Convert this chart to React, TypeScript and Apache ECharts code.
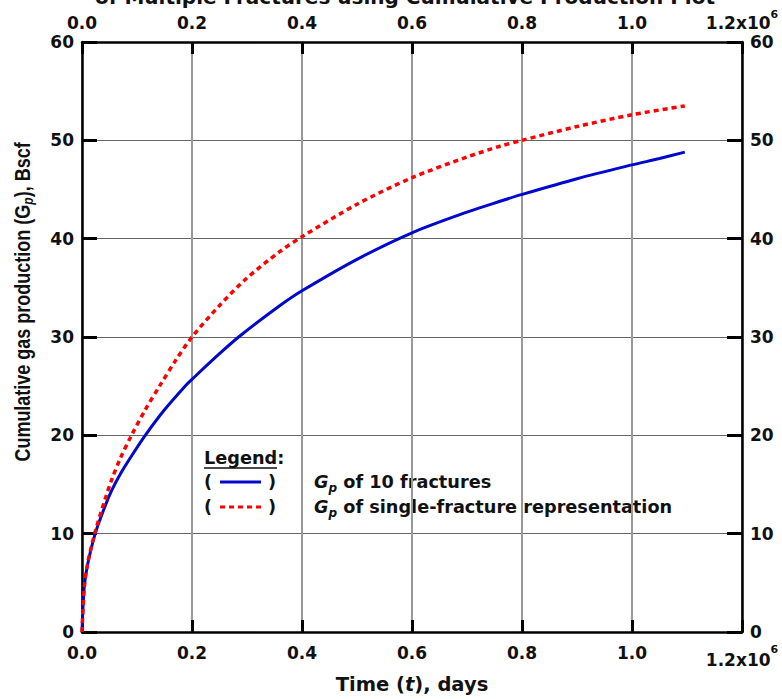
import React, { useEffect, useRef } from "react";
import * as echarts from "echarts";

// Time in days
const timeSingle = [0, 4000, 10000, 24000, 42000, 54000, 70000, 90000, 115000, 142000, 170000, 200000, 250000, 300000, 360000, 400000, 500000, 600000, 700000, 760000, 800000, 900000, 1000000, 1096000];
const gpSingle = [0, 4.4, 6.9, 10.2, 13.5, 15.5, 17.7, 20, 22.6, 25.1, 27.6, 30, 33.2, 36, 38.7, 40.2, 43.5, 46.2, 48.3, 49.4, 50, 51.4, 52.6, 53.5];

const timeTen = [0, 4000, 10000, 24000, 42000, 54000, 70000, 90000, 115000, 150000, 189000, 200000, 250000, 287000, 360000, 400000, 500000, 600000, 700000, 760000, 800000, 900000, 1000000, 1050000, 1096000];
const gpTen = [0, 4.5, 6.8, 10, 12.8, 14.4, 16.1, 17.9, 20, 22.6, 25.1, 25.7, 28.3, 30.1, 33.2, 34.7, 37.9, 40.6, 42.7, 43.8, 44.5, 46.1, 47.5, 48.15, 48.8];

const xTicks = [0, 200000, 400000, 600000, 800000, 1000000, 1200000];
const yTicks = [0, 10, 20, 30, 40, 50, 60];

const FONT = "DejaVu Sans";
const FONT2 = "Liberation Sans";

export default function App() {
  const ref = useRef<HTMLDivElement>(null);
  useEffect(() => {
    if (!ref.current) return;
    const chart = echarts.init(ref.current, null, { renderer: "svg" });
    const xMin = xTicks[0];
    const xMax = xTicks[xTicks.length - 1];
    const xInt = xTicks[1] - xTicks[0];
    const yMin = yTicks[0];
    const yMax = yTicks[yTicks.length - 1];
    const yInt = yTicks[1] - yTicks[0];

    const labelBase = { fontFamily: FONT, fontWeight: "bold", fontSize: 17, color: "#111" };
    const fmtX = (v: number) =>
      v === xMax ? `{m|${(v / 1e6).toFixed(1)}x10}{s|6}` : (v / 1e6).toFixed(1);

    const common = {
      type: "value",
      min: xMin,
      max: xMax,
      interval: xInt,
      axisLine: { show: true, onZero: false, lineStyle: { color: "#000", width: 2.5 } },
      axisTick: { show: true, inside: true, length: 12, lineStyle: { color: "#000", width: 3 } },
    };

    const legendRich = {
      g: { fontFamily: FONT, fontWeight: "bold", fontStyle: "italic", fontSize: 17.7, fill: "#111", lineHeight: 24, verticalAlign: "middle" },
      p: { fontFamily: FONT, fontWeight: "bold", fontStyle: "italic", fontSize: 12, fill: "#111", lineHeight: 12, verticalAlign: "bottom" },
      n: { fontFamily: FONT, fontWeight: "bold", fontSize: 17.7, fill: "#111", lineHeight: 24, verticalAlign: "middle" },
    };
    const paren = { fontFamily: FONT, fontWeight: "bold", fontSize: 17.7, fill: "#111", verticalAlign: "middle" };

    chart.setOption({
      animation: false,
      backgroundColor: "#fff",
      grid: { left: 82, right: 40, top: 42, bottom: 65, containLabel: false },
      xAxis: [
        {
          ...common,
          position: "bottom",
          name: "{n|Time (}{i|t}{n|), days}",
          nameLocation: "middle",
          nameGap: 42,
          nameTextStyle: {
            rich: {
              n: { fontFamily: FONT, fontWeight: "bold", fontSize: 19.5, color: "#111" },
              i: { fontFamily: FONT, fontWeight: "bold", fontStyle: "italic", fontSize: 19.5, color: "#111" },
            },
          },
          axisLabel: {
            ...labelBase,
            margin: 12,
            formatter: fmtX,
            rich: {
              m: { ...labelBase, lineHeight: 24, verticalAlign: "bottom" },
              s: { ...labelBase, fontSize: 11, lineHeight: 22, verticalAlign: "top" },
            },
          },
          splitLine: { show: true, lineStyle: { color: "#999", width: 2 } },
        },
        {
          ...common,
          position: "top",
          axisLabel: {
            ...labelBase,
            margin: 11,
            formatter: fmtX,
            rich: {
              m: { ...labelBase, lineHeight: 22, verticalAlign: "bottom" },
              s: { ...labelBase, fontSize: 11, lineHeight: 13, verticalAlign: "top" },
            },
          },
          splitLine: { show: false },
        },
      ],
      yAxis: [
        {
          type: "value",
          position: "left",
          min: yMin,
          max: yMax,
          interval: yInt,
          axisLine: { show: true, onZero: false, lineStyle: { color: "#000", width: 2.5 } },
          axisTick: { show: true, inside: true, length: 15, lineStyle: { color: "#000", width: 3 } },
          axisLabel: { ...labelBase, margin: 8 },
          splitLine: { show: true, lineStyle: { color: "#666", width: 1 } },
        },
        {
          type: "value",
          position: "right",
          min: yMin,
          max: yMax,
          interval: yInt,
          axisLine: { show: true, onZero: false, lineStyle: { color: "#000", width: 2.5 } },
          axisTick: { show: true, inside: true, length: 15, lineStyle: { color: "#000", width: 3 } },
          axisLabel: { ...labelBase, margin: 8 },
          splitLine: { show: false },
        },
      ],
      series: [
        {
          name: "Gp of 10 fractures",
          type: "line",
          xAxisIndex: 0,
          yAxisIndex: 0,
          smooth: 0.3,
          showSymbol: false,
          data: timeTen.map((t, i) => [t, gpTen[i]]),
          lineStyle: { color: "#0008cc", width: 3 },
          z: 3,
        },
        {
          name: "Gp of single-fracture representation",
          type: "line",
          xAxisIndex: 0,
          yAxisIndex: 0,
          smooth: 0.3,
          showSymbol: false,
          data: timeSingle.map((t, i) => [t, gpSingle[i]]),
          lineStyle: { color: "#ff0000", width: 3.5, type: [5, 4] },
          z: 4,
        },
      ],
      graphic: [
        {
          type: "text",
          x: 405,
          y: -3,
          style: {
            text: "of Multiple Fractures using Cumulative Production Plot",
            fontFamily: FONT,
            fontWeight: "bold",
            fontSize: 20,
            fill: "#111",
            align: "center",
            verticalAlign: "middle",
          },
        },
        {
          type: "text",
          x: 22,
          y: 302,
          rotation: Math.PI / 2,
          scaleY: 1.25,
          style: {
            text: "{n|Cumulative gas production (G}{p|p}{n|), Bscf}",
            align: "center",
            verticalAlign: "middle",
            rich: {
              n: { fontFamily: FONT2, fontWeight: "bold", fontSize: 18, fill: "#111", lineHeight: 22, verticalAlign: "middle" },
              p: { fontFamily: FONT2, fontWeight: "bold", fontStyle: "italic", fontSize: 12, fill: "#111", lineHeight: 12, verticalAlign: "bottom" },
            },
          },
        },
        {
          type: "text",
          x: 204,
          y: 458,
          style: { text: "Legend:", ...paren },
        },
        { type: "line", shape: { x1: 204, y1: 468, x2: 277, y2: 468 }, style: { stroke: "#111", lineWidth: 1.5 } },
        { type: "text", x: 204, y: 482, style: { text: "(", ...paren } },
        { type: "line", shape: { x1: 220, y1: 482, x2: 261, y2: 482 }, style: { stroke: "#0008cc", lineWidth: 3 } },
        { type: "text", x: 268, y: 482, style: { text: ")", ...paren } },
        { type: "text", x: 204, y: 507, style: { text: "(", ...paren } },
        { type: "line", shape: { x1: 220, y1: 507, x2: 261, y2: 507 }, style: { stroke: "#ff0000", lineWidth: 3, lineDash: [5, 4] } },
        { type: "text", x: 268, y: 507, style: { text: ")", ...paren } },
        {
          type: "text",
          x: 314,
          y: 482,
          style: { text: "{g|G}{p|p}{n| of 10 fractures}", verticalAlign: "middle", rich: legendRich },
        },
        {
          type: "text",
          x: 314,
          y: 507,
          style: { text: "{g|G}{p|p}{n| of single-fracture representation}", verticalAlign: "middle", rich: legendRich },
        },
      ],
    });
    return () => chart.dispose();
  }, []);
  return (
    <div
      ref={ref}
      style={{ position: "fixed", left: 0, top: 0, width: 782, height: 699, background: "#fff" }}
    />
  );
}
